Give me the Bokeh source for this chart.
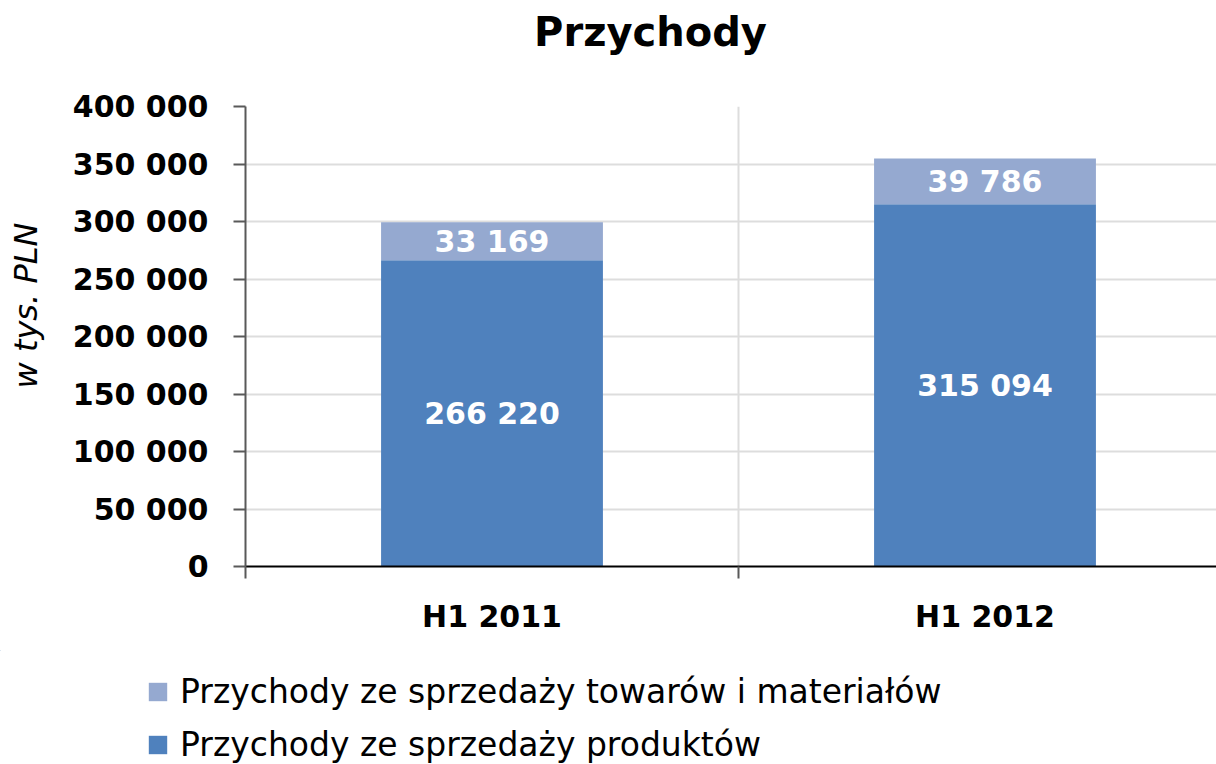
import math
from bokeh.plotting import figure
from bokeh.layouts import column, row
from bokeh.models import (ColumnDataSource, Range1d, FixedTicker, CustomJSTickFormatter,
                          Legend, LegendItem, Label)
from bokeh.core.properties import value
from bokeh.embed import file_html
from bokeh.resources import INLINE

title_text = "Przychody"
y_label_text = "w tys. PLN"
categories = ["H1 2011", "H1 2012"]
produkty = [266220, 315094]
towary = [33169, 39786]
series_names = ["Przychody ze sprzedaży towarów i materiałów", "Przychody ze sprzedaży produktów"]
y_ticks = [0, 50000, 100000, 150000, 200000, 250000, 300000, 350000, 400000]

FONT = "DejaVu Sans"
C_DARK = "#4F81BD"
C_LIGHT = "#95A9D0"

def fmt(v):
    return f"{v:,}".replace(",", " ")

def blank_fig(w, h):
    f = figure(width=w, height=h, output_backend="svg", toolbar_location=None,
               x_range=Range1d(10, 11), y_range=Range1d(-10, -9),
               x_axis_location=None, y_axis_location=None,
               min_border_left=0, min_border_right=0, min_border_top=0, min_border_bottom=0)
    f.outline_line_color = None
    f.xgrid.visible = False
    f.ygrid.visible = False
    f.frame_align = False
    return f

xs = [i + 0.5 for i in range(len(categories))]
top_total = [a + b for a, b in zip(produkty, towary)]
src = ColumnDataSource(dict(
    x=xs, produkty=produkty, towary=towary, top=top_total,
    mid_p=[v / 2 for v in produkty],
    mid_t=[a + b / 2 for a, b in zip(produkty, towary)],
    lab_p=[fmt(v) for v in produkty],
    lab_t=[fmt(v) for v in towary],
))

# ---- title strip
tf = blank_fig(1216, 70)
tf.add_layout(Label(x=650, y=39, x_units="screen", y_units="screen", text=title_text,
                    text_font=FONT, text_font_size="40px", text_font_style="bold",
                    text_color="black", text_align="center", text_baseline="middle"))

# ---- y label strip
yf = blank_fig(60, 580)
yf.add_layout(Label(x=25, y=345, x_units="screen", y_units="screen", text=y_label_text,
                    angle=math.pi / 2, text_font=FONT, text_font_size="32px",
                    text_font_style="italic", text_color="black",
                    text_align="center", text_baseline="middle"))

# ---- main chart
p = figure(width=1156, height=580, output_backend="svg", toolbar_location=None,
           x_range=Range1d(0, (1216 - 245) / 493), y_range=Range1d(0, 400000),
           min_border_left=185, min_border_right=0, min_border_top=36, min_border_bottom=84)
p.outline_line_color = None
p.background_fill_color = "white"
p.frame_align = False

r_p = p.vbar(x="x", bottom=0, top="produkty", width=0.45, source=src, color=C_DARK, line_color=None)
r_t = p.vbar(x="x", bottom="produkty", top="top", width=0.45, source=src, color=C_LIGHT, line_color=None)

p.text(x="x", y="mid_p", text="lab_p", source=src, text_color="white",
       text_font=value(FONT), text_font_size="30px", text_font_style="bold",
       text_align="center", text_baseline="middle")
p.text(x="x", y="mid_t", text="lab_t", source=src, text_color="white",
       text_font=value(FONT), text_font_size="30px", text_font_style="bold",
       text_align="center", text_baseline="middle")

p.yaxis.ticker = FixedTicker(ticks=y_ticks)
p.yaxis.formatter = CustomJSTickFormatter(code='return tick.toString().replace(/\\B(?=(\\d{3})+(?!\\d))/g, " ");')
p.yaxis.major_label_text_font = FONT
p.yaxis.major_label_text_font_size = "30px"
p.yaxis.major_label_text_font_style = "bold"
p.yaxis.major_label_text_color = "black"
p.yaxis.major_tick_out = 12
p.yaxis.major_tick_in = 0
p.yaxis.minor_tick_out = 0
p.yaxis.minor_tick_in = 0
p.yaxis.axis_line_color = "#595959"
p.yaxis.major_tick_line_color = "#595959"
p.yaxis.axis_line_width = 2
p.yaxis.major_tick_line_width = 2
p.yaxis.major_label_standoff = 25

p.xaxis.ticker = FixedTicker(ticks=xs, minor_ticks=[0, 1, 2])
p.xaxis.major_label_overrides = {x: c for x, c in zip(xs, categories)}
p.xaxis.major_label_text_font = FONT
p.xaxis.major_label_text_font_size = "30px"
p.xaxis.major_label_text_font_style = "bold"
p.xaxis.major_label_text_color = "black"
p.xaxis.major_tick_out = 0
p.xaxis.major_tick_in = 0
p.xaxis.minor_tick_out = 12
p.xaxis.minor_tick_in = 0
p.xaxis.minor_tick_line_color = "#595959"
p.xaxis.minor_tick_line_width = 2
p.xaxis.axis_line_color = "black"
p.xaxis.axis_line_width = 2
p.xaxis.major_label_standoff = 20

p.ygrid.ticker = FixedTicker(ticks=y_ticks)
p.ygrid.grid_line_color = "#DDDDDD"
p.ygrid.grid_line_width = 2
p.xgrid.ticker = FixedTicker(ticks=[1])
p.xgrid.grid_line_color = "#DDDDDD"
p.xgrid.grid_line_width = 2

# ---- legend strip
lg = blank_fig(1216, 114)
l_p = lg.vbar(x="x", bottom=0, top="produkty", width=0.45, source=src, color=C_DARK, line_color=None)
l_t = lg.vbar(x="x", bottom="produkty", top="top", width=0.45, source=src, color=C_LIGHT, line_color=None)
legend = Legend(items=[LegendItem(label=series_names[0], renderers=[l_t]),
                       LegendItem(label=series_names[1], renderers=[l_p])],
                location=(146, 0), orientation="vertical",
                label_text_font=FONT, label_text_font_size="33px", label_text_color="black",
                glyph_width=23, glyph_height=23, label_height=38, spacing=14,
                background_fill_alpha=0, border_line_color=None, padding=0, margin=0,
                label_standoff=11)
lg.add_layout(legend, "center")

layout = column(tf, row(yf, p, spacing=0), lg, spacing=0)
open("out.html", "w").write(file_html(layout, INLINE))
